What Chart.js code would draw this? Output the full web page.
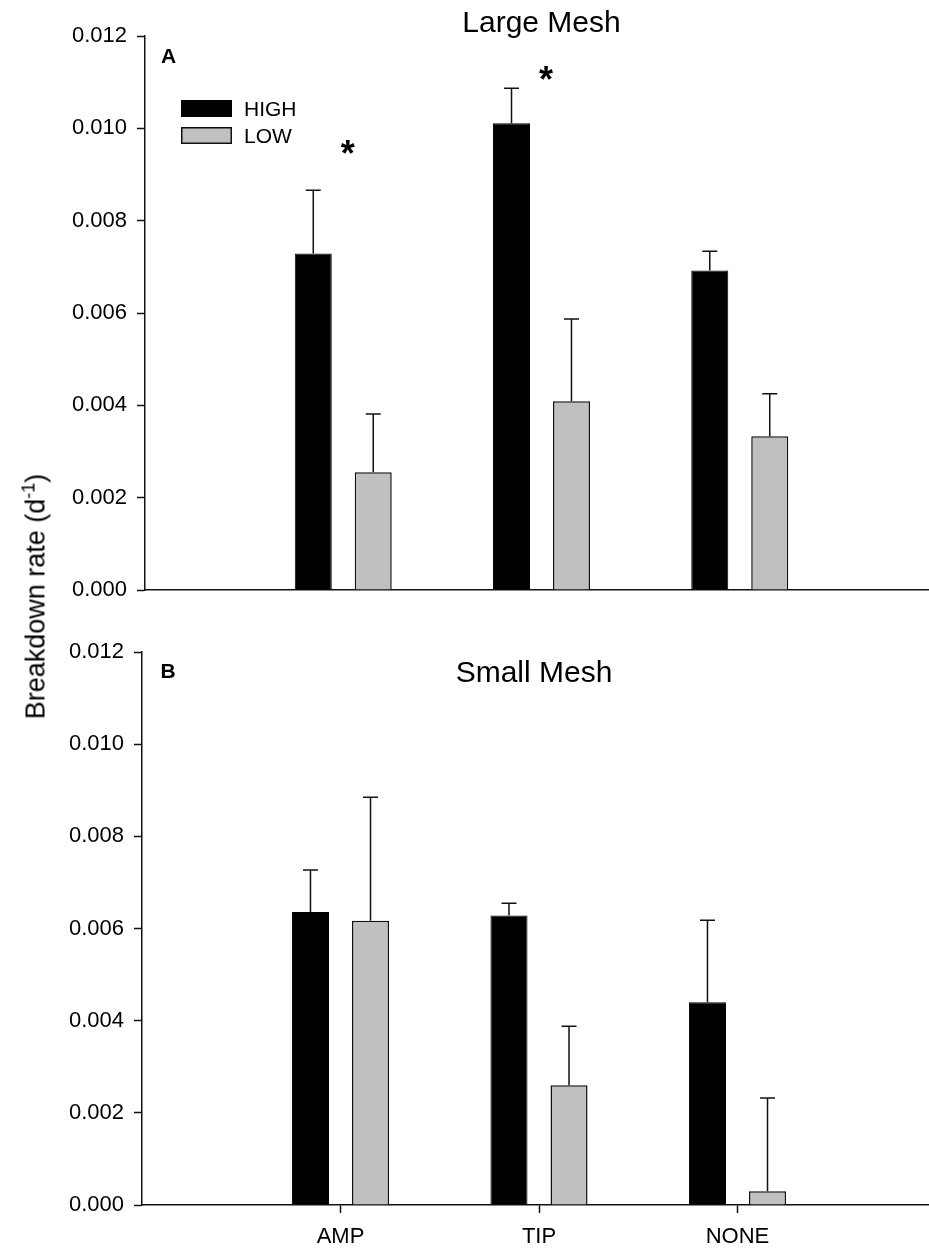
<!DOCTYPE html>
<html>
<head>
<meta charset="utf-8">
<script src="https://cdn.jsdelivr.net/npm/chart.js@4.4.1/dist/chart.umd.min.js"></script>
<style>
  html, body { margin: 0; padding: 0; background: #fff; overflow: hidden; }
  #page { position: relative; width: 929px; height: 1249px; overflow: hidden; }
  canvas { position: absolute; left: 0; }
  #largeMesh { top: 0; }
  #smallMesh { top: 620px; }
  #yTitle {
    position: absolute;
    left: -166.5px;
    top: 582.5px;
    width: 400px;
    height: 27px;
    line-height: 27px;
    text-align: center;
    white-space: nowrap;
    font: 27px "Liberation Sans", Arial, sans-serif;
    color: #000;
    transform: rotate(-90deg);
  }
  #yTitle sup { font-size: 18px; line-height: 0; vertical-align: 10px; }
</style>
</head>
<body>
<div id="page">
  <canvas id="largeMesh" width="960" height="620"></canvas>
  <canvas id="smallMesh" width="960" height="629"></canvas>
  <div id="yTitle">Breakdown rate (d<sup>-1</sup>)</div>
</div>
<script>
const categories = ["AMP", "TIP", "NONE"];
const seriesNames = ["HIGH", "LOW"];
const yTicks = [0, 0.002, 0.004, 0.006, 0.008, 0.010, 0.012];

// large mesh bags: mean and SE per treatment
const largeHigh = [0.00729, 0.01011, 0.00692];
const largeHighSE = [0.00137, 0.00076, 0.00042];
const largeLow = [0.00255, 0.00409, 0.00333];
const largeLowSE = [0.00126, 0.00178, 0.00092];
// height of the significance asterisk, null where there is none
const largeSig = [0.0096, 0.0112, null];

// small mesh bags
const smallHigh = [0.00636, 0.00628, 0.00440];
const smallHighSE = [0.00091, 0.00027, 0.00178];
const smallLow = [0.00617, 0.00260, 0.00030];
const smallLowSE = [0.00268, 0.00128, 0.00202];
const smallSig = [null, null, null];

const FONT = "'Liberation Sans', Arial, sans-serif";
const INK = "#111";

// error bars, asterisks, panel title/letter and the legend
const panelDecor = {
  id: "panelDecor",
  afterDatasetsDraw(chart, args, opts) {
    const { ctx, chartArea, scales } = chart;
    const xs = scales.x, ys = scales.y;
    ctx.save();

    ctx.strokeStyle = INK;
    ctx.lineWidth = 1.5;
    chart.data.datasets.forEach((ds, di) => {
      const meta = chart.getDatasetMeta(di);
      meta.data.forEach((bar, i) => {
        const v = ds.data[i];
        const se = ds.errors[i];
        if (v == null || se == null) return;
        const top = ys.getPixelForValue(v + se);
        ctx.beginPath();
        ctx.moveTo(bar.x, bar.y);
        ctx.lineTo(bar.x, top);
        ctx.moveTo(bar.x - opts.capWidth / 2, top);
        ctx.lineTo(bar.x + opts.capWidth / 2, top);
        ctx.stroke();
      });
    });

    ctx.fillStyle = "#000";
    ctx.textAlign = "center";
    ctx.textBaseline = "alphabetic";
    ctx.font = "bold 36px " + FONT;
    const star = ctx.measureText("*");
    opts.sig.forEach((s, i) => {
      if (s == null) return;
      const cx = xs.getPixelForValue(i + 1) + opts.sigDx;
      const cy = ys.getPixelForValue(s);
      const base = cy - (star.actualBoundingBoxDescent - star.actualBoundingBoxAscent) / 2;
      ctx.fillText("*", cx, base);
    });

    ctx.font = "30px " + FONT;
    ctx.fillText(opts.title, xs.getPixelForValue(2) + opts.titleDx, chartArea.top + opts.titleDy);

    ctx.textAlign = "left";
    ctx.font = "bold 21px " + FONT;
    ctx.fillText(opts.letter, chartArea.left + opts.letterDx, chartArea.top + opts.letterDy);

    if (opts.legend) {
      const bx = chartArea.left + 36;
      const by = chartArea.top + 64;
      ctx.font = "21px " + FONT;
      chart.data.datasets.forEach((ds, di) => {
        const top = by + di * 27;
        ctx.fillStyle = ds.backgroundColor;
        ctx.fillRect(bx, top, 51, 17);
        ctx.strokeStyle = ds.borderColor;
        ctx.lineWidth = 1.5;
        ctx.strokeRect(bx + 0.75, top + 0.75, 49.5, 15.5);
        ctx.fillStyle = "#000";
        ctx.fillText(ds.label, bx + 63, top + 8.5 + 21 * 0.716 / 2);
      });
    }
    ctx.restore();
  }
};
Chart.register(panelDecor);

function buildPanel(canvasId, high, highSE, low, lowSE, decor, box) {
  const padded = arr => [null, ...arr, null];
  const blankEnd = c => c.index === 0 || c.index === categories.length + 1;
  return new Chart(document.getElementById(canvasId), {
    type: "bar",
    data: {
      labels: ["", ...categories, ""],
      datasets: [
        {
          label: seriesNames[0],
          data: padded(high),
          errors: padded(highSE),
          backgroundColor: "#000000",
          borderColor: "#000000",
          borderWidth: 1,
        },
        {
          label: seriesNames[1],
          data: padded(low),
          errors: padded(lowSE),
          backgroundColor: "#c0c0c0",
          borderColor: INK,
          borderWidth: 1.5,
        },
      ],
    },
    options: {
      responsive: false,
      animation: false,
      events: [],
      layout: { padding: { top: box.top, right: box.right, left: 0, bottom: 0 } },
      datasets: {
        bar: { categoryPercentage: 0.605, barPercentage: 0.617, borderSkipped: "bottom" },
      },
      scales: {
        x: {
          offset: false,
          grid: {
            display: true,
            offset: false,
            drawOnChartArea: false,
            drawTicks: box.xTicks,
            tickLength: 8,
            tickWidth: 1.5,
            tickColor: c => (blankEnd(c) ? "rgba(0,0,0,0)" : INK),
          },
          border: { display: true, color: INK, width: 1.5 },
          ticks: {
            display: box.xTicks,
            autoSkip: false,
            maxRotation: 0,
            padding: 11,
            color: "#000",
            font: { family: FONT, size: 22 },
          },
          afterFit: s => { s.height = box.xHeight; },
        },
        y: {
          min: 0,
          max: 0.012,
          afterBuildTicks: s => { s.ticks = yTicks.map(v => ({ value: v })); },
          grid: {
            drawOnChartArea: false,
            tickLength: 8,
            tickWidth: 1.5,
            tickColor: INK,
          },
          border: { display: true, color: INK, width: 1.5 },
          ticks: {
            padding: 10,
            color: "#000",
            font: { family: FONT, size: 22 },
            callback: v => Number(v).toFixed(3),
          },
          afterFit: s => { s.width = box.left; },
        },
      },
      plugins: {
        legend: { display: false },
        tooltip: { enabled: false },
        panelDecor: decor,
      },
    },
  });
}

buildPanel("largeMesh", largeHigh, largeHighSE, largeLow, largeLowSE,
  { title: "Large Mesh", titleDx: 0, titleDy: -4, letter: "A", letterDx: 16, letterDy: 27,
    legend: true, sig: largeSig, sigDx: 4.5, capWidth: 15 },
  { left: 145, top: 36, right: 22, xHeight: 30, xTicks: false });

buildPanel("smallMesh", smallHigh, smallHighSE, smallLow, smallLowSE,
  { title: "Small Mesh", titleDx: -5, titleDy: 30, letter: "B", letterDx: 18.5, letterDy: 26,
    legend: false, sig: smallSig, sigDx: 4.5, capWidth: 15 },
  { left: 142, top: 32, right: 24, xHeight: 44, xTicks: true });
</script>
</body>
</html>
